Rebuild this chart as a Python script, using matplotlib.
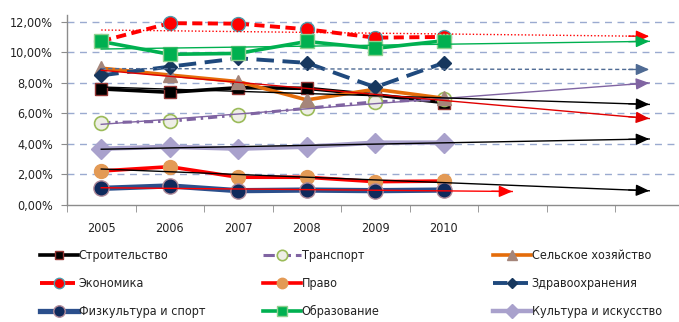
import numpy as np
import matplotlib
matplotlib.use("Agg")
import matplotlib.pyplot as plt
from matplotlib.lines import Line2D
from matplotlib import font_manager

years = ["2005", "2006", "2007", "2008", "2009", "2010"]
extra_periods = 3  # empty forecast categories on the axis

names = ["Строительство", "Транспорт", "Сельское хозяйство",
         "Экономика", "Право", "Здравоохранения",
         "Физкультура и спорт", "Образование", "Культура и искусство"]

stroitelstvo = [7.59, 7.37, 7.67, 7.63, 7.20, 6.70]
transport = [5.38, 5.47, 5.88, 6.32, 6.75, 6.90]
selskoe = [8.95, 8.50, 8.07, 6.87, 7.57, 6.98]
ekonomika = [10.72, 11.90, 11.87, 11.50, 10.95, 11.00]
pravo = [2.21, 2.49, 1.80, 1.80, 1.51, 1.55]
zdrav = [8.48, 9.05, 9.60, 9.30, 7.70, 9.30]
fizkultura = [1.07, 1.23, 0.92, 0.96, 0.92, 0.96]
obrazovanie = [10.70, 9.86, 9.92, 10.70, 10.25, 10.75]
kultura = [3.67, 3.80, 3.67, 3.80, 4.07, 4.07]

series = [stroitelstvo, transport, selskoe, ekonomika, pravo, zdrav,
          fizkultura, obrazovanie, kultura]

styles = [
    dict(color="#000000", lw=2.6, ls="-", marker="s", ms=8, mfc="#000000", mec="#943634", mew=1.0),
    dict(color="#8064A2", lw=2.2, ls=(0, (3, 1.6, 0.8, 1.6)), marker="o", ms=10, mfc="#EEEEE6", mec="#9BBB59", mew=1.2),
    dict(color="#E46C0A", lw=2.6, ls="-", marker="^", ms=10, mfc="#A5857A", mec="#A5857A", mew=1.0),
    dict(color="#FF0000", lw=2.8, ls=(0, (2.6, 1.4)), marker="o", ms=10, mfc="#FF0000", mec="#4F9AAA", mew=1.0),
    dict(color="#FF0000", lw=2.6, ls="-", marker="o", ms=10, mfc="#E39A55", mec="#E39A55", mew=1.0),
    dict(color="#1F497D", lw=2.8, ls=(0, (4.5, 2.2)), marker="D", ms=7, mfc="#17375E", mec="#17375E", mew=1.0),
    dict(color="#2B4F8C", lw=3.8, ls="-", marker="o", ms=11, mfc="#0F2A5C", mec="#B08A9A", mew=1.0),
    dict(color="#00B050", lw=2.6, ls="-", marker="s", ms=10, mfc="#00B050", mec="#8FD08F", mew=1.0),
    dict(color="#A9A1CC", lw=3.2, ls="-", marker="D", ms=10, mfc="#A9A1CC", mec="#A9A1CC", mew=1.0),
]

# trendlines: (series index, color, linestyle, forecast periods)
trends = [
    (3, "#FF0000", (0, (1, 1.5)), 3),
    (7, "#00B050", "-", 3),
    (5, "#4F6B94", (0, (3, 2)), 3),
    (1, "#8064A2", "-", 3),
    (0, "#000000", "-", 3),
    (2, "#E00000", "-", 3),
    (8, "#000000", "-", 3),
    (4, "#000000", "-", 3),
    (6, "#FF0000", "-", 1),
]

FS = 9
narrow = None
for f in font_manager.fontManager.ttflist:
    nm = f.name
    st = str(f.stretch)
    if ("Narrow" in nm or "Condensed" in nm or st in ("condensed", "semi-condensed")) and f.weight in (400, "normal", "regular") and f.style == "normal":
        narrow = f
        break
if narrow is not None:
    fprop = font_manager.FontProperties(fname=narrow.fname, size=FS)
else:
    fprop = font_manager.FontProperties(family=["Liberation Sans", "DejaVu Sans"], size=FS - 1)
plt.rcParams["font.family"] = ["Liberation Sans", "DejaVu Sans"]

W, H = 679, 322
fig = plt.figure(figsize=(W / 100, H / 100), dpi=100)
left_px, right_px, top_px, bottom_px = 67, 683.5, 14.8, 204.7
ax = fig.add_axes([left_px / W, 1 - bottom_px / H, (right_px - left_px) / W, (bottom_px - top_px) / H])

n = len(years)
x = np.arange(n)
ax.set_xlim(-0.5, n + extra_periods - 0.5)
ax.set_ylim(0, 12.45)

for val in [2, 4, 6, 8, 10, 12]:
    ax.axhline(val, color="#9AAAD0", lw=1.0, ls=(0, (5, 4)), zorder=1)

lines = []
for vals, st in zip(series, styles):
    (ln,) = ax.plot(x, vals, color=st["color"], lw=st["lw"], ls=st["ls"], marker=st["marker"],
                    ms=st["ms"], mfc=st["mfc"], mec=st["mec"], mew=st["mew"], zorder=3,
                    solid_capstyle="butt", dash_capstyle="butt")
    lines.append(ln)

for idx, col, ls, fwd in trends:
    vals = np.array(series[idx])
    k, b = np.polyfit(x, vals, 1)
    xe = np.array([0, n - 1 + fwd])
    ye = k * xe + b
    ax.plot(xe, ye, color=col, lw=1.0, ls=ls, zorder=5)
    ax.annotate("", xy=(xe[1], ye[1]), xytext=(xe[1] - 0.3, ye[1] - 0.3 * k),
                arrowprops=dict(arrowstyle="-|>,head_length=0.8,head_width=0.35", color=col, lw=1.0,
                                shrinkA=0, shrinkB=0), zorder=6)

for s in ["top", "right"]:
    ax.spines[s].set_visible(False)
for s in ["left", "bottom"]:
    ax.spines[s].set_color("#8C8C8C")
    ax.spines[s].set_linewidth(1.0)

ax.set_yticks([0, 2, 4, 6, 8, 10, 12])
ax.set_yticklabels([f"{v:.2f}%".replace(".", ",") for v in [0, 2, 4, 6, 8, 10, 12]],
                   color="#222222", fontproperties=fprop)
ax.tick_params(axis="y", length=4, color="#8C8C8C", pad=6)

ax.set_xticks(np.arange(n + extra_periods))
ax.set_xticklabels(years + [""] * extra_periods, color="#222222", fontproperties=fprop)
ax.tick_params(axis="x", which="major", length=0, pad=12.5)
ax.set_xticks(np.arange(-0.5, n + extra_periods), minor=True)
ax.tick_params(axis="x", which="minor", length=5, color="#8C8C8C")

# legend: three columns positioned by hand (row-major order in the original)
col_x = [40 / W, 263 / W, 493 / W]
for c in range(3):
    hs = [lines[r * 3 + c] for r in range(3)]
    ls_ = [names[r * 3 + c] for r in range(3)]
    hs2 = []
    for h in hs:
        hs2.append(Line2D([], [], color=h.get_color(), lw=h.get_linewidth(), ls=h.get_linestyle(),
                          marker=h.get_marker(), ms=h.get_markersize() * 0.75, mfc=h.get_markerfacecolor(),
                          mec=h.get_markeredgecolor(), mew=h.get_markeredgewidth()))
    leg = fig.legend(hs2, ls_, loc="upper left", bbox_to_anchor=(col_x[c], 1 - 249 / H),
                     frameon=False, prop=fprop, handlelength=3.0, handletextpad=0.1,
                     labelspacing=1.2, borderpad=0, borderaxespad=0)
    for t in leg.get_texts():
        t.set_color("#222222")

fig.savefig("out.png", dpi=100)
